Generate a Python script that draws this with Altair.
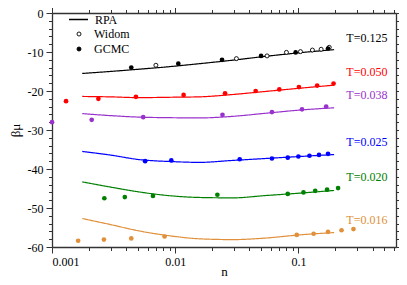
import altair as alt
import pandas as pd

# ---------------- data ----------------
T_labels = ["0.125", "0.050", "0.038", "0.025", "0.020", "0.016"]
T_colors = ["#000000", "#FF0000", "#9932CC", "#0000FF", "#008000", "#E0903A"]

# RPA curves
rpa_n = [0.00176, 0.00294, 0.00514, 0.0094, 0.0157, 0.0293, 0.0546, 0.1016, 0.195]
rpa_0125 = [-15.5, -15.0, -14.4, -13.7, -13.0, -12.1, -11.1, -10.2, -9.4]
rpa_0050 = [-21.4, -21.5, -21.7, -21.6, -21.5, -20.9, -20.1, -19.3, -18.5]
rpa_0038 = [-25.8, -26.3, -26.7, -26.85, -26.9, -26.5, -25.7, -24.9, -24.3]
rpa_0025 = [-35.5, -36.4, -37.6, -38.1, -38.3, -37.8, -37.3, -36.8, -36.3]
rpa_0020 = [-43.3, -44.6, -45.9, -46.9, -47.3, -47.4, -46.8, -46.2, -45.5]
rpa_0016 = [-52.7, -54.2, -55.9, -57.2, -57.9, -58.1, -57.7, -56.9, -56.3]

# GCMC points
g_n_0125 = [0.0044, 0.0106, 0.024, 0.0498, 0.095, 0.174]
g_v_0125 = [-14.0, -13.0, -12.0, -11.0, -10.1, -9.1]
g_n_0050 = [0.0013, 0.00238, 0.0048, 0.0117, 0.0254, 0.045, 0.070, 0.101, 0.142, 0.193]
g_v_0050 = [-22.6, -22.0, -21.5, -21.0, -20.6, -20.0, -19.6, -19.0, -18.6, -18.1]
g_n_0038 = [0.001, 0.0021, 0.0055, 0.0242, 0.061, 0.107, 0.168]
g_v_0038 = [-28.0, -27.4, -26.7, -26.1, -25.4, -24.7, -24.0]
g_n_0025 = [0.0057, 0.0093, 0.0334, 0.061, 0.082, 0.100, 0.123, 0.147, 0.174]
g_v_0025 = [-38.0, -37.8, -37.5, -37.3, -37.1, -36.8, -36.6, -36.4, -36.1]
g_n_0020 = [0.00266, 0.0039, 0.0066, 0.022, 0.082, 0.110, 0.137, 0.171, 0.21]
g_v_0020 = [-47.5, -47.2, -46.9, -46.6, -46.4, -46.0, -45.6, -45.3, -44.9]
g_n_0016 = [0.00163, 0.00264, 0.0044, 0.0082, 0.097, 0.133, 0.174, 0.224, 0.28]
g_v_0016 = [-58.4, -58.1, -57.8, -57.3, -56.9, -56.6, -56.1, -55.7, -55.4]

# Widom points (T=0.125)
w_n = [0.00697, 0.0314, 0.0557, 0.080, 0.104, 0.130, 0.153, 0.178]
w_v = [-13.4, -11.7, -11.0, -10.1, -9.9, -9.5, -9.3, -8.8]

# curve labels
lab_n = [0.245] * 6
lab_v = [-6.4, -15.0, -21.0, -33.0, -42.1, -53.0]

# axis ticks
x_ticks = [m * d for d in [0.001, 0.01, 0.1] for m in range(1, 10) if m * d <= 0.62]
y_ticks = list(range(-60, 1, 2))

# ---------------- tables ----------------
rpa_all = [rpa_0125, rpa_0050, rpa_0038, rpa_0025, rpa_0020, rpa_0016]
rows = []
for t, vals in zip(T_labels, rpa_all):
    for n, v in zip(rpa_n, vals):
        rows.append({"n": n, "v": v, "T": t, "method": "RPA"})
df_rpa = pd.DataFrame(rows)

g_all = [(g_n_0125, g_v_0125), (g_n_0050, g_v_0050), (g_n_0038, g_v_0038),
         (g_n_0025, g_v_0025), (g_n_0020, g_v_0020), (g_n_0016, g_v_0016)]
rows = []
for t, (ns, vs) in zip(T_labels, g_all):
    for n, v in zip(ns, vs):
        rows.append({"n": n, "v": v, "T": t, "method": "GCMC"})
df_g = pd.DataFrame(rows)

df_w = pd.DataFrame({"n": w_n, "v": w_v, "T": "0.125", "method": "Widom"})
df_lab = pd.DataFrame({"n": lab_n, "v": lab_v, "T": T_labels,
                       "txt": ["T=" + t for t in T_labels]})

FONT = "Liberation Serif"
AXC = "#333333"

xscale = alt.Scale(type="log", domain=[0.001, 0.62], nice=False)
yscale = alt.Scale(domain=[-60, 0], nice=False, zero=False)
cscale = alt.Scale(domain=T_labels, range=T_colors)

x_major_test = "abs(log(datum.value)/LN10 - round(log(datum.value)/LN10)) < 0.001"
y_major_test = "datum.value % 10 == 0"


def xaxis(orient, labels):
    kw = dict(
        orient=orient, values=x_ticks, grid=False,
        tickSize={"condition": {"test": x_major_test, "value": 6}, "value": 3.5},
        tickColor=AXC, tickWidth=1, domainColor=AXC, domainWidth=1.3,
    )
    if labels:
        kw.update(
            format=".3~f", labelOverlap=False,
            labelExpr=f"({x_major_test}) ? datum.label : ''",
            labelFont=FONT, labelFontSize=12, labelColor="black", labelPadding=3,
            title="n", titleFont=FONT, titleFontSize=13, titleFontWeight="normal",
            titleColor="black", titleX=172, titleY=24, titleBaseline="middle",
            titleAlign="center",
        )
    else:
        kw.update(labels=False, title=None)
    return alt.Axis(**kw)


def yaxis(orient, labels):
    kw = dict(
        orient=orient, values=y_ticks, grid=False,
        tickSize={"condition": {"test": y_major_test, "value": 6}, "value": 3.5},
        tickColor=AXC, tickWidth=1, domainColor=AXC, domainWidth=1.3,
    )
    if labels:
        kw.update(
            labelOverlap=False,
            labelExpr=f"({y_major_test}) ? ('' + datum.value) : ''",
            labelFont=FONT, labelFontSize=12, labelColor="black", labelPadding=3,
            title="βμ", titleFont=FONT, titleFontSize=13, titleFontWeight="normal",
            titleColor="black", titleAngle=270, titleX=-37, titleY=117,
            titleBaseline="middle", titleAlign="center",
        )
    else:
        kw.update(labels=False, title=None)
    return alt.Axis(**kw)


lines = alt.Chart(df_rpa).mark_line(strokeWidth=1.2, interpolate="monotone").encode(
    x=alt.X("n:Q", scale=xscale, axis=xaxis("bottom", True)),
    y=alt.Y("v:Q", scale=yscale, axis=yaxis("left", True)),
    color=alt.Color("T:N", scale=cscale, legend=None),
    detail="T:N",
    strokeDash=alt.StrokeDash(
        "method:N", scale=alt.Scale(domain=["RPA"], range=[[1, 0]]),
        legend=alt.Legend(
            orient="none", legendX=16, legendY=-4, title=None, padding=0,
            symbolType="stroke", symbolSize=361, symbolStrokeColor="black",
            symbolStrokeWidth=1.3, labelFont=FONT, labelFontSize=12,
            labelColor="black", labelOffset=6,
        ),
    ),
)

widom = alt.Chart(df_w).mark_point(
    filled=True, shape="circle", size=16, stroke="black", strokeWidth=0.9, opacity=1
).encode(
    x=alt.X("n:Q", scale=xscale, axis=xaxis("top", False)),
    y=alt.Y("v:Q", scale=yscale, axis=yaxis("right", False)),
    fill=alt.Fill(
        "method:N", scale=alt.Scale(domain=["Widom", "GCMC"], range=["white", "black"]),
        legend=alt.Legend(
            orient="none", legendX=21, legendY=15, title=None, padding=0,
            symbolType="circle", symbolSize=16, symbolStrokeColor="black",
            symbolStrokeWidth=0.9, symbolOpacity=1, labelFont=FONT, labelFontSize=12,
            labelColor="black", labelOffset=9, rowPadding=3,
        ),
    ),
)

gcmc = alt.Chart(df_g).mark_circle(size=22, opacity=1).encode(
    x=alt.X("n:Q", scale=xscale, axis=None),
    y=alt.Y("v:Q", scale=yscale, axis=None),
    color=alt.Color("T:N", scale=cscale, legend=None),
)

labels = alt.Chart(df_lab).mark_text(
    align="left", baseline="middle", font=FONT, fontSize=12
).encode(
    x=alt.X("n:Q", scale=xscale, axis=None),
    y=alt.Y("v:Q", scale=yscale, axis=None),
    text="txt:N",
    color=alt.Color("T:N", scale=cscale, legend=None),
)

chart = alt.layer(lines, widom, gcmc, labels).resolve_scale(
    x="independent", y="independent"
).properties(
    width=344, height=234,
    autosize=alt.AutoSizeParams(type="none"),
    padding={"left": 44, "top": 5, "right": 3, "bottom": 32},
).configure_view(strokeWidth=0).configure(background="white")

chart.save("out.html", embed_options={"renderer": "svg", "actions": False})
